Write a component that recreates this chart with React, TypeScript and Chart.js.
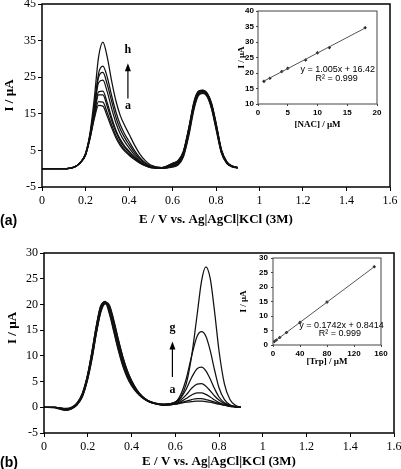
import React, { useEffect, useRef } from "react";
import { Chart, registerables } from "chart.js";
Chart.register(...registerables);

// ---------- shared potential grid (V) ----------
const potentialV = [0, 0.05, 0.1, 0.125, 0.15, 0.175, 0.2, 0.22, 0.24, 0.26, 0.28, 0.3, 0.32, 0.34, 0.36, 0.38, 0.4, 0.425, 0.45, 0.475, 0.5, 0.55, 0.6, 0.625, 0.65, 0.675, 0.7, 0.72, 0.74, 0.76, 0.78, 0.8, 0.825, 0.85, 0.875, 0.9];

// ---------- panel (a): curves a..h (µA) ----------
const nacA = [0, 0, 0, 0.1, 0.5, 1.6, 3.7, 8, 13.5, 17.3, 17.1, 14.3, 11.2, 8.4, 6.3, 4.8, 3.7, 2.5, 1.5, 0.8, 0.3, 0.1, 0.4, 1.0, 3.2, 9.0, 16.5, 20.0, 20.6, 19.6, 16.2, 10.8, 4.2, 1.4, 0.5, 0.2];
const nacB = [0, 0, 0, 0.1, 0.5, 1.6, 3.7, 8.2, 14, 18.3, 18.2, 15.3, 12, 9, 6.8, 5.2, 4, 2.7, 1.6, 0.8, 0.3, 0.1, 0.6, 1.2, 3.5, 9.5, 17, 20.3, 20.8, 19.8, 16.5, 11.2, 4.4, 1.5, 0.5, 0.2];
const nacC = [0, 0, 0, 0.1, 0.5, 1.6, 3.8, 8.4, 14.6, 20.2, 20.2, 17, 13.2, 10, 7.5, 5.8, 4.5, 3, 1.8, 0.9, 0.4, 0.1, 0.8, 1.4, 3.8, 10, 17.5, 20.6, 21, 20, 16.8, 11.5, 4.6, 1.6, 0.6, 0.3];
const nacD = [0, 0, 0, 0.1, 0.5, 1.6, 3.8, 8.5, 15, 21, 21.2, 18, 14, 10.5, 8, 6.2, 4.8, 3.2, 1.9, 1, 0.4, 0.2, 1.0, 1.6, 4.0, 10.3, 17.8, 20.8, 21.1, 20.1, 17, 11.7, 4.7, 1.6, 0.6, 0.3];
const nacE = [0, 0, 0, 0.1, 0.5, 1.6, 3.9, 8.8, 16, 23.5, 24.2, 21, 16.5, 12.5, 9.5, 7.4, 5.7, 3.8, 2.2, 1.1, 0.5, 0.2, 1.2, 1.8, 4.3, 10.6, 18, 20.9, 21.2, 20.3, 17.2, 12, 4.9, 1.7, 0.6, 0.3];
const nacF = [0, 0, 0, 0.1, 0.5, 1.6, 4, 9, 16.5, 25, 26.3, 23, 18.5, 14, 10.8, 8.5, 6.6, 4.4, 2.6, 1.4, 0.6, 0.2, 1.3, 2.0, 4.5, 10.8, 18.2, 21, 21.3, 20.4, 17.4, 12.2, 5, 1.8, 0.7, 0.3];
const nacG = [0, 0, 0, 0.1, 0.5, 1.6, 4, 9, 17, 26, 28, 25, 20, 15.5, 12, 9.5, 7.5, 5, 3, 1.6, 0.7, 0.3, 1.4, 2.1, 4.6, 11, 18.4, 21.1, 21.4, 20.5, 17.6, 12.4, 5.1, 1.8, 0.7, 0.3];
const nacH = [0, 0, 0, 0.1, 0.5, 1.6, 4.2, 9.5, 19, 30.5, 34.6, 30.5, 24, 18.5, 14.5, 11.8, 9.5, 6.5, 4, 2.2, 1, 0.3, 1.5, 2.2, 4.8, 11.2, 18.6, 21.2, 21.5, 20.6, 17.8, 12.6, 5.2, 1.9, 0.7, 0.3];

// ---------- panel (b): curves a..g (µA) ----------
const trpA = [0, 0, -0.2, 0, 0.8, 2.7, 6.5, 11, 16, 19.8, 20.3, 18, 14.5, 11, 8, 5.8, 4.2, 2.8, 1.8, 1.2, 0.8, 0.4, 0.6, 0.8, 1, 1.1, 1.2, 1.2, 1.1, 1, 0.8, 0.6, 0.4, 0.2, 0.1, 0];
const trpB = [0, 0, -0.3, -0.1, 0.7, 2.6, 6.4, 11, 16, 19.8, 20.5, 18.3, 14.8, 11.3, 8.3, 6, 4.4, 2.9, 1.9, 1.2, 0.8, 0.4, 0.6, 0.9, 1.2, 1.5, 1.7, 1.7, 1.5, 1.3, 1, 0.7, 0.4, 0.2, 0.1, 0];
const trpC = [0, 0, -0.3, -0.1, 0.7, 2.5, 6.3, 10.8, 15.8, 19.6, 20.6, 18.8, 15.3, 11.8, 8.7, 6.3, 4.6, 3, 1.9, 1.2, 0.8, 0.4, 0.7, 1.1, 1.7, 2.4, 2.8, 2.8, 2.5, 2, 1.4, 0.9, 0.5, 0.2, 0.1, 0];
const trpD = [0, 0, -0.4, -0.2, 0.6, 2.4, 6, 10.3, 15.2, 19.2, 20.5, 19.2, 15.9, 12.3, 9.1, 6.6, 4.8, 3.1, 2, 1.2, 0.8, 0.5, 0.8, 1.4, 2.4, 3.7, 4.5, 4.6, 4.1, 3.2, 2.2, 1.4, 0.7, 0.3, 0.1, 0];
const trpE = [0, 0, -0.5, -0.2, 0.5, 2.2, 5.8, 10, 14.8, 18.9, 20.3, 19.4, 16.3, 12.8, 9.5, 6.9, 5, 3.2, 2, 1.3, 0.9, 0.5, 0.9, 1.8, 3.5, 5.8, 7.5, 7.8, 7.1, 5.5, 3.6, 2, 0.9, 0.4, 0.1, 0];
const trpF = [0, 0, -0.5, -0.3, 0.5, 2.1, 5.6, 9.7, 14.6, 18.7, 20.4, 19.8, 16.8, 13.2, 9.9, 7.2, 5.2, 3.3, 2.1, 1.3, 0.9, 0.6, 1, 2.5, 5.5, 10, 13.8, 14.7, 13.8, 11, 7.2, 3.8, 1.5, 0.5, 0.2, 0];
const trpG = [0, -0.1, -0.6, -0.3, 0.4, 2, 5.5, 9.5, 14.5, 18.5, 20.1, 19.5, 16.5, 13, 9.8, 7.2, 5.2, 3.4, 2.1, 1.3, 0.8, 0.6, 1, 2, 4.5, 10, 18, 24.5, 27.3, 25, 18.5, 11, 4.5, 1.5, 0.4, 0];

// ---------- insets ----------
const nacConc = [1, 2, 4, 5, 8, 10, 12, 18];
const nacPeak = [17.3, 18.3, 20.5, 21.5, 24.2, 26.5, 28.2, 34.6];
const nacFitX = [1, 18];
const nacFitY = [17.4, 34.5];
const trpConc = [2, 5, 10, 20, 40, 80, 150];
const trpPeak = [1.2, 1.7, 2.6, 4.3, 7.8, 14.8, 27.0];
const trpFitX = [2, 150];
const trpFitY = [1.19, 26.97];

// ---------- tick labels ----------
const mainXTicks = [0, 0.2, 0.4, 0.6, 0.8, 1, 1.2, 1.4, 1.6];
const mainAYTicks = [-5, 5, 15, 25, 35, 45];
const mainBYTicks = [-5, 0, 5, 10, 15, 20, 25, 30];
const insetAXTicks = [0, 5, 10, 15, 20];
const insetAYTicks = [10, 15, 20, 25, 30, 35, 40];
const insetBXTicks = [0, 40, 80, 120, 160];
const insetBYTicks = [0, 5, 10, 15, 20, 25, 30];

const SERIF = "'Liberation Serif', 'Times New Roman', serif";
const SANS = "'Liberation Sans', Arial, sans-serif";

const framePlugin = {
  id: "frame",
  afterDatasetsDraw(chart: any, _a: any, opts: any) {
    const { ctx, chartArea } = chart;
    const { left, top, right, bottom } = chartArea;
    ctx.save();
    ctx.strokeStyle = opts.color || "#000";
    ctx.lineWidth = opts.width || 1;
    ctx.strokeRect(left, top, right - left, bottom - top);
    ctx.restore();
  },
};

const notesPlugin = {
  id: "notes",
  afterDraw(chart: any, _a: any, opts: any) {
    const { ctx, scales } = chart;
    const xs = scales.x, ys = scales.y;
    ctx.save();
    ctx.fillStyle = "#000";
    ctx.strokeStyle = "#000";
    for (const n of opts.items || []) {
      ctx.save();
      ctx.font = n.font;
      ctx.textAlign = n.align || "center";
      ctx.textBaseline = "middle";
      if (n.px !== undefined) {
        ctx.translate(n.px, n.py);
        ctx.rotate(n.rot || 0);
        ctx.fillText(n.text, 0, 0);
      } else {
        ctx.fillText(n.text, xs.getPixelForValue(n.x), ys.getPixelForValue(n.y));
      }
      ctx.restore();
    }
    for (const a of opts.arrows || []) {
      const px = xs.getPixelForValue(a.x);
      const p1 = ys.getPixelForValue(a.y1);
      const p2 = ys.getPixelForValue(a.y2);
      ctx.lineWidth = 1.2;
      ctx.beginPath();
      ctx.moveTo(px, p1);
      ctx.lineTo(px, p2 + 6);
      ctx.stroke();
      ctx.beginPath();
      ctx.moveTo(px, p2);
      ctx.lineTo(px - 3, p2 + 8);
      ctx.lineTo(px + 3, p2 + 8);
      ctx.closePath();
      ctx.fill();
    }
    ctx.restore();
  },
};

const fixedTicks = (vals: number[]) => (s: any) => {
  s.ticks = vals.map((v) => ({ value: v }));
};

function mainConfig(o: any) {
  return {
    type: "line",
    data: {
      datasets: o.curves.map((c: number[]) => ({
        data: potentialV.map((x, i) => ({ x, y: c[i] })),
        borderColor: "#111",
        borderWidth: 1.25,
        pointRadius: 0,
        cubicInterpolationMode: "monotone",
        fill: false,
      })),
    },
    options: {
      responsive: false,
      animation: false,
      events: [],
      layout: { padding: { left: 0, top: o.padTop, right: o.padRight, bottom: 0 } },
      plugins: {
        legend: { display: false },
        tooltip: { enabled: false },
        frame: { width: 1.5, color: "#000" },
        notes: { items: o.notes, arrows: o.arrows },
      },
      scales: {
        x: {
          type: "linear",
          min: 0,
          max: 1.6,
          afterBuildTicks: fixedTicks(mainXTicks),
          afterFit: (s: any) => {
            s.height = o.xHeight;
            s.paddingLeft = 0;
            s.paddingRight = 0;
          },
          grid: { drawOnChartArea: false, tickLength: 4, color: "#000", lineWidth: 1 },
          border: { display: false },
          ticks: {
            color: "#000",
            font: { family: SERIF, size: 12 },
            padding: 3,
            maxRotation: 0,
            autoSkip: false,
            callback: (v: number) => String(v),
          },
          title: {
            display: true,
            text: "E / V vs. Ag|AgCl|KCl (3M)",
            color: "#000",
            font: { family: SERIF, size: 13, weight: "bold" },
            padding: { top: 0, bottom: o.xTitlePad },
          },
        },
        y: {
          type: "linear",
          min: o.yMin,
          max: o.yMax,
          afterBuildTicks: fixedTicks(o.yTicks),
          afterFit: (s: any) => {
            s.width = o.yWidth;
            s.paddingTop = 0;
            s.paddingBottom = 0;
          },
          grid: { drawOnChartArea: false, tickLength: 4, color: "#000", lineWidth: 1 },
          border: { display: false },
          ticks: {
            color: "#000",
            font: { family: SERIF, size: 12 },
            padding: 2,
            callback: (v: number) => String(v),
          },
          title: {
            display: o.yTitleLib,
            text: "I / µA",
            color: "#000",
            font: { family: SERIF, size: 13, weight: "bold" },
            padding: { top: o.yTitlePad, bottom: 0 },
          },
        },
      },
    },
    plugins: [framePlugin, notesPlugin],
  };
}

function insetConfig(o: any) {
  return {
    type: "scatter",
    data: {
      datasets: [
        {
          data: o.fitX.map((x: number, i: number) => ({ x, y: o.fitY[i] })),
          showLine: true,
          borderColor: "#555",
          borderWidth: 1,
          pointRadius: 0,
        },
        {
          data: o.px.map((x: number, i: number) => ({ x, y: o.py[i] })),
          showLine: false,
          pointStyle: "rectRot",
          pointRadius: 1.8,
          backgroundColor: "#222",
          borderColor: "#222",
          borderWidth: 0,
        },
      ],
    },
    options: {
      responsive: false,
      animation: false,
      events: [],
      layout: { padding: { left: 0, top: o.padTop, right: o.padRight, bottom: 0 } },
      plugins: {
        legend: { display: false },
        tooltip: { enabled: false },
        frame: { width: 1, color: "#444" },
        notes: { items: o.notes },
      },
      scales: {
        x: {
          type: "linear",
          min: o.xMin,
          max: o.xMax,
          afterBuildTicks: fixedTicks(o.xTicks),
          afterFit: (s: any) => {
            s.height = o.xHeight;
            s.paddingLeft = 0;
            s.paddingRight = 0;
          },
          grid: { drawOnChartArea: false, tickLength: 2, color: "#444", lineWidth: 1 },
          border: { display: false },
          ticks: {
            color: "#000",
            font: { family: SANS, size: 8, weight: "bold" },
            padding: 2,
            maxRotation: 0,
            autoSkip: false,
            callback: (v: number) => String(v),
          },
          title: {
            display: true,
            text: o.xTitle,
            color: "#000",
            font: { family: SERIF, size: 9, weight: "bold" },
            padding: { top: 0, bottom: o.xTitlePad },
          },
        },
        y: {
          type: "linear",
          min: o.yMin,
          max: o.yMax,
          afterBuildTicks: fixedTicks(o.yTicks),
          afterFit: (s: any) => {
            s.width = o.yWidth;
            s.paddingTop = 0;
            s.paddingBottom = 0;
          },
          grid: { drawOnChartArea: false, tickLength: 2, color: "#444", lineWidth: 1 },
          border: { display: false },
          ticks: {
            color: "#000",
            font: { family: SANS, size: 8, weight: "bold" },
            padding: o.yTickPad,
            callback: (v: number) => String(v),
          },
          title: {
            display: true,
            text: "I / µA",
            color: "#000",
            font: { family: SERIF, size: 9, weight: "bold" },
            padding: { top: o.yTitlePad, bottom: 0 },
          },
        },
      },
    },
    plugins: [framePlugin, notesPlugin],
  };
}

function ChartCanvas({ left, top, width, height, config }: any) {
  const ref = useRef<HTMLCanvasElement>(null);
  useEffect(() => {
    const chart = new Chart(ref.current as HTMLCanvasElement, config() as any);
    return () => chart.destroy();
  }, []);
  return (
    <canvas
      ref={ref}
      width={width}
      height={height}
      style={{ position: "absolute", left, top, width, height }}
    />
  );
}

const BOLD12 = `bold 12px ${SERIF}`;
const BOLD13 = `bold 13px ${SERIF}`;
const EQ = `9px ${SANS}`;

export default function App() {
  return (
    <div style={{ position: "fixed", left: 0, top: 0, width: 401, height: 469, background: "#fff", overflow: "hidden" }}>
      <ChartCanvas
        left={0}
        top={0}
        width={401}
        height={232}
        config={() =>
          mainConfig({
            curves: [nacA, nacB, nacC, nacD, nacE, nacF, nacG, nacH],
            yMin: -5, yMax: 45, yTicks: mainAYTicks,
            padTop: 4, padRight: 11, yWidth: 42, xHeight: 45, xTitlePad: 5, yTitlePad: 2, yTitleLib: true,
            notes: [
              { text: "h", x: 0.395, y: 32.4, font: BOLD12 },
              { text: "a", x: 0.395, y: 17.1, font: BOLD12 },
            ],
            arrows: [{ x: 0.395, y1: 19.2, y2: 28.8 }],
          })
        }
      />
      <ChartCanvas
        left={0}
        top={236}
        width={401}
        height={233}
        config={() =>
          mainConfig({
            curves: [trpA, trpB, trpC, trpD, trpE, trpF, trpG],
            yMin: -5, yMax: 30, yTicks: mainBYTicks,
            padTop: 17, padRight: 7, yWidth: 44, xHeight: 36, xTitlePad: 0, yTitlePad: 3, yTitleLib: false,
            notes: [
              { text: "g", x: 0.587, y: 15.4, font: BOLD12 },
              { text: "a", x: 0.587, y: 3.4, font: BOLD12 },
              { text: "I / µA", px: 13, py: 92, rot: -Math.PI / 2, font: BOLD13 },
            ],
            arrows: [{ x: 0.587, y1: 5.9, y2: 12.8 }],
          })
        }
      />
      <ChartCanvas
        left={225}
        top={0}
        width={165}
        height={130}
        config={() =>
          insetConfig({
            px: nacConc, py: nacPeak, fitX: nacFitX, fitY: nacFitY,
            xMin: 0, xMax: 20, xTicks: insetAXTicks,
            yMin: 10, yMax: 40, yTicks: insetAYTicks,
            padTop: 11, padRight: 13, yWidth: 33, xHeight: 26,
            xTitle: "[NAC] / µM", xTitlePad: 0, yTitlePad: 11, yTickPad: 2,
            notes: [
              { text: "y = 1.005x + 16.42", x: 13.4, y: 21.0, font: EQ },
              { text: "R² = 0.999", x: 13.2, y: 18.1, font: EQ },
            ],
          })
        }
      />
      <ChartCanvas
        left={225}
        top={245}
        width={165}
        height={125}
        config={() =>
          insetConfig({
            px: trpConc, py: trpPeak, fitX: trpFitX, fitY: trpFitY,
            xMin: 0, xMax: 160, xTicks: insetBXTicks,
            yMin: 0, yMax: 30, yTicks: insetBYTicks,
            padTop: 13, padRight: 9, yWidth: 48, xHeight: 25,
            xTitle: "[Trp] / µM", xTitlePad: 2.6, yTitlePad: 13.6, yTickPad: 3,
            notes: [
              { text: "y = 0.1742x + 0.8414", x: 101.5, y: 6.55, font: EQ },
              { text: "R² = 0.999", x: 99, y: 3.8, font: EQ },
            ],
          })
        }
      />
      <div style={{ position: "absolute", left: 0, top: 211, font: `bold 14px ${SANS}`, lineHeight: "18px", color: "#000" }}>(a)</div>
      <div style={{ position: "absolute", left: 0, top: 453, font: `bold 14px ${SANS}`, lineHeight: "18px", color: "#000" }}>(b)</div>
    </div>
  );
}
